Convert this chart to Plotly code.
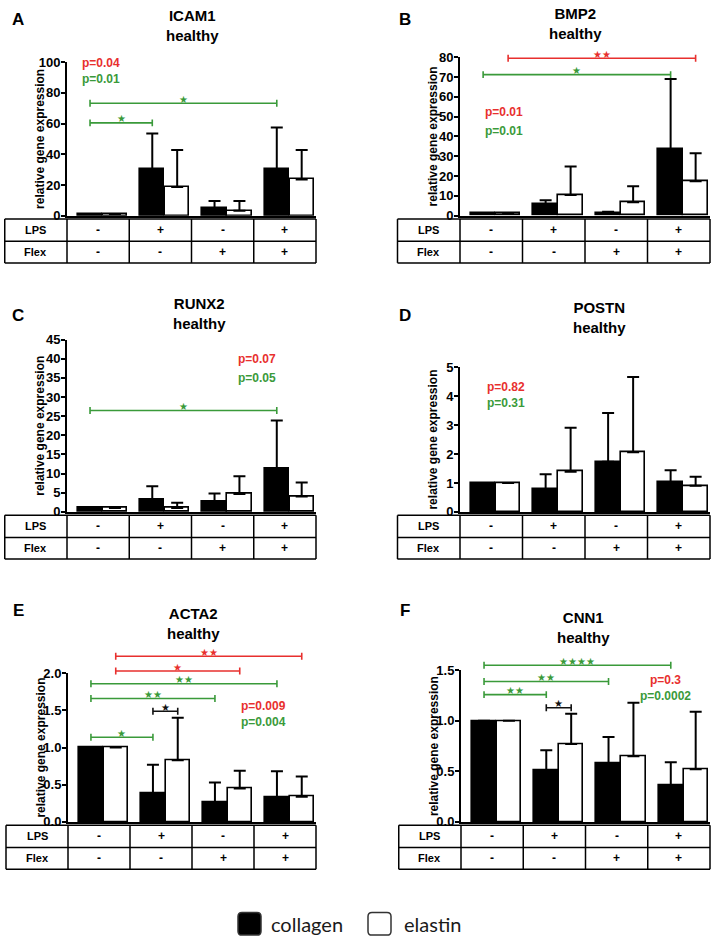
import plotly.graph_objects as go

# ---------------- data ----------------
genes = ["ICAM1", "BMP2", "RUNX2", "POSTN", "ACTA2", "CNN1"]
panel_letters = ["A", "B", "C", "D", "E", "F"]
condition = "healthy"
series_names = ["collagen", "elastin"]
y_title = "relative gene expression"
row_labels = ["LPS", "Flex"]
lps_signs = ["-", "+", "-", "+"]
flex_signs = ["-", "-", "+", "+"]

collagen_mean = [
    [1.0, 30.0, 5.0, 30.0],
    [1.0, 5.8, 1.2, 33.4],
    [1.0, 3.3, 2.6, 11.3],
    [1.0, 0.79, 1.73, 1.02],
    [1.0, 0.38, 0.26, 0.33],
    [1.0, 0.51, 0.58, 0.36],
]
collagen_err = [
    [None, 23.5, 4.6, 27.4],
    [None, 2.0, 0.8, 35.6],
    [None, 3.4, 2.2, 12.6],
    [None, 0.51, 1.69, 0.42],
    [None, 0.39, 0.27, 0.35],
    [None, 0.20, 0.26, 0.23],
]
elastin_mean = [
    [1.0, 18.6, 3.2, 23.6],
    [1.0, 10.4, 6.8, 17.4],
    [1.0, 1.0, 4.7, 4.0],
    [1.0, 1.39, 2.06, 0.90],
    [1.0, 0.83, 0.45, 0.34],
    [1.0, 0.77, 0.65, 0.52],
]
elastin_err = [
    [None, 24.2, 6.4, 19.2],
    [None, 14.4, 8.1, 14.1],
    [None, 1.4, 4.6, 3.7],
    [None, 1.52, 2.60, 0.31],
    [None, 0.57, 0.24, 0.27],
    [None, 0.30, 0.53, 0.57],
]
p_elastin = ["p=0.04", "p=0.01", "p=0.07", "p=0.82", "p=0.009", "p=0.3"]
p_collagen = ["p=0.01", "p=0.01", "p=0.05", "p=0.31", "p=0.004", "p=0.0002"]

# significance comparisons: (series_a, group_a, series_b, group_b, number of stars)
comparisons = [
    [(0, 0, 0, 1, 1), (0, 0, 0, 3, 1)],
    [(1, 0, 1, 3, 2), (0, 0, 0, 3, 1)],
    [(0, 0, 0, 3, 1)],
    [],
    [(1, 0, 1, 3, 2), (1, 0, 1, 2, 1), (0, 0, 0, 3, 2),
     (0, 0, 0, 2, 2), (0, 1, 1, 1, 1), (0, 0, 0, 1, 1)],
    [(0, 0, 0, 3, 4), (0, 0, 0, 2, 2), (0, 0, 0, 1, 2), (0, 1, 1, 1, 1)],
]

# axis scales
y_max = [100, 80, 45, 5, 2.0, 1.5]
y_step = [20, 10, 5, 1, 0.5, 0.5]
y_fmt = ["d", "d", "d", "d", ".1f", ".1f"]

# ---------------- layout / positions (pixels) ----------------
W, H = 714, 948
axis_x_px = [(67, 316), (460, 710), (67, 316), (460, 710), (68, 316), (461, 710)]
axis_y_px = [(56, 212), (51, 212), (338, 513), (366, 513), (677, 828), (674, 828)]
title_px = [(192, 23), (575, 20.5), (199, 316), (599, 319.5), (194, 630.5), (583, 635)]
letter_px = [(18, 15), (405, 15), (18, 315), (405, 315), (18, 615), (405, 615)]
bracket_levels = [
    [60.4, 73.2],
    [79.5, 71.2],
    [26.5],
    [],
    [2.23, 2.03, 1.86, 1.66, 1.49, 1.14],
    [1.55, 1.39, 1.26, 1.13],
]
# p-text anchor: (x data, y data red, y data green)
p_pos = [(-0.02, 96.8, 88.9), (0.14, 51.7, 42.2), (2.48, 39.6, 34.7),
         (0.17, 4.22, 3.73), (2.58, 1.52, 1.32), (2.72, 1.38, 1.23)]
XR = [-0.57, 3.43]
OFFS = [-0.2, 0.2]
BAR_W = 0.39

RED = "#e8302e"
GREEN = "#3a9a3a"
BLACK = "#111111"
series_fill = ["black", "white"]
series_sig_color = [GREEN, RED]
FONT = "Arial, 'Liberation Sans', sans-serif"
STAR = "\u2605"


def PX(px):
    return px / W


def PY(py):
    return 1 - py / H


def dx2px(i, xv):
    a0, a1 = axis_x_px[i]
    return a0 + (xv - XR[0]) / (XR[1] - XR[0]) * (a1 - a0)


def dy2px(i, yv):
    top, bot = axis_y_px[i]
    return bot - yv / y_max[i] * (bot - top)


fig = go.Figure()
layout = {}
shapes = []
annotations = []

for i, gene in enumerate(genes):
    n = "" if i == 0 else str(i + 1)
    xa, ya = "x" + n, "y" + n
    a0, a1 = axis_x_px[i]
    top, bot = axis_y_px[i]
    layout["xaxis" + n] = dict(domain=[PX(a0), PX(a1)], range=XR, anchor=ya,
                               showline=True, linecolor="black", linewidth=2,
                               showticklabels=False, ticks="", showgrid=False,
                               zeroline=False, fixedrange=True)
    layout["yaxis" + n] = dict(domain=[PY(bot), PY(top)], range=[0, y_max[i]], anchor=xa,
                               tick0=0, dtick=y_step[i], tickformat=y_fmt[i],
                               showline=True, linecolor="black", linewidth=2,
                               ticks="outside", ticklen=4, tickwidth=1.5, tickcolor="black",
                               ticklabelstandoff=-2,
                               tickfont=dict(family=FONT, size=13, color="black", weight="bold"),
                               showgrid=False, zeroline=False, fixedrange=True)

    means = [collagen_mean[i], elastin_mean[i]]
    errs = [collagen_err[i], elastin_err[i]]
    for s in range(2):
        fig.add_trace(go.Bar(
            x=[g + OFFS[s] for g in range(4)], y=means[s], width=BAR_W,
            name=series_names[s], xaxis=xa, yaxis=ya, showlegend=False,
            marker=dict(color=series_fill[s], line=dict(color="black", width=1.6)),
            error_y=dict(type="data", symmetric=False, array=errs[s],
                         arrayminus=[0] * 4, color="black", thickness=2, width=6),
        ))

    # title and letter
    tx, ty = title_px[i]
    annotations.append(dict(x=PX(tx), y=PY(ty), xref="paper", yref="paper", yshift=4,
                            text=f"<b>{gene}</b><br><b>{condition}</b>", showarrow=False,
                            xanchor="center", yanchor="middle",
                            font=dict(family=FONT, size=15, color="black")))
    lx, ly = letter_px[i]
    annotations.append(dict(x=PX(lx), y=PY(ly), xref="paper", yref="paper", yshift=2,
                            text=f"<b>{panel_letters[i]}</b>", showarrow=False,
                            xanchor="center", yanchor="middle",
                            font=dict(family=FONT, size=17, color="black")))
    # y-axis title
    annotations.append(dict(x=PX(a0 - 27), y=PY((top + bot) / 2), xref="paper", yref="paper",
                            text=f"<b>{y_title}</b>", showarrow=False, textangle=-90,
                            xanchor="center", yanchor="middle",
                            font=dict(family=FONT, size=12, color="black")))

    # p values
    pxv, pyr, pyg = p_pos[i]
    yr_px, yg_px = dy2px(i, pyr), dy2px(i, pyg)
    if yg_px - yr_px < 17:
        annotations.append(dict(
            x=PX(dx2px(i, pxv)), y=PY((yr_px + yg_px) / 2), xref="paper", yref="paper",
            yshift=2,
            text=(f"<b><span style='color:{RED}'>{p_elastin[i]}</span></b><br>"
                  f"<b><span style='color:{GREEN}'>{p_collagen[i]}</span></b>"),
            showarrow=False, xanchor="center", yanchor="middle",
            font=dict(family=FONT, size=12, color=RED)))
    else:
        for txt, yp, col in ((p_elastin[i], yr_px, RED), (p_collagen[i], yg_px, GREEN)):
            annotations.append(dict(x=PX(dx2px(i, pxv)), y=PY(yp), xref="paper", yref="paper",
                                    yshift=1, text=f"<b>{txt}</b>", showarrow=False,
                                    xanchor="center", yanchor="middle",
                                    font=dict(family=FONT, size=12, color=col)))

    # significance brackets
    for (sa, ga, sb, gb, nstars), lev in zip(comparisons[i], bracket_levels[i]):
        col = series_sig_color[sa] if sa == sb else BLACK
        x1 = dx2px(i, ga + OFFS[sa])
        x2 = dx2px(i, gb + OFFS[sb])
        yp = dy2px(i, lev)
        c = 3.5
        path = (f"M {PX(x1)} {PY(yp - c)} L {PX(x1)} {PY(yp + c)} "
                f"M {PX(x1)} {PY(yp)} L {PX(x2)} {PY(yp)} "
                f"M {PX(x2)} {PY(yp - c)} L {PX(x2)} {PY(yp + c)}")
        shapes.append(dict(type="path", path=path, xref="paper", yref="paper",
                           line=dict(color=col, width=1.6)))
        annotations.append(dict(x=PX((x1 + x2) / 2), y=PY(yp), xref="paper", yref="paper",
                                text=STAR * nstars, showarrow=False, xanchor="center",
                                yanchor="middle", yshift=4,
                                font=dict(family="DejaVu Sans", size=10, color=col)))

    # condition table under the axis
    unit = (a1 - a0) / (XR[1] - XR[0])
    t_left = a0 - unit
    rows_y = [bot + 3.5, bot + 26, bot + 48]
    for ry in rows_y:
        shapes.append(dict(type="line", xref="paper", yref="paper",
                           x0=PX(t_left), x1=PX(a1), y0=PY(ry), y1=PY(ry),
                           line=dict(color="black", width=1.5)))
    col_edges = [t_left] + [a0 + k * unit for k in range(5)]
    for cx in col_edges:
        shapes.append(dict(type="line", xref="paper", yref="paper",
                           x0=PX(cx), x1=PX(cx), y0=PY(rows_y[0]), y1=PY(rows_y[2]),
                           line=dict(color="black", width=1.5)))
    for r, (label, signs) in enumerate(zip(row_labels, [lps_signs, flex_signs])):
        cy = (rows_y[r] + rows_y[r + 1]) / 2
        annotations.append(dict(x=PX(t_left + unit / 2), y=PY(cy), xref="paper", yref="paper",
                                text=f"<b>{label}</b>", showarrow=False, xanchor="center",
                                yanchor="middle", font=dict(family=FONT, size=11, color="black")))
        for g, sgn in enumerate(signs):
            annotations.append(dict(x=PX(a0 + (g + 0.5) * unit), y=PY(cy), xref="paper",
                                    yref="paper", text=f"<b>{sgn}</b>", showarrow=False,
                                    xanchor="center", yanchor="middle",
                                    font=dict(family=FONT, size=12, color="black")))

# ---------------- legend (drawn) ----------------
legend_px = [(238, 920, 269), (368, 920, 402)]
sq = 23
r = 4
for s, (lx0, ly0, tx) in enumerate(legend_px):
    x0, x1, y0, y1 = lx0, lx0 + sq, ly0, ly0 + sq
    path = (f"M {PX(x0 + r)} {PY(y0)} L {PX(x1 - r)} {PY(y0)} Q {PX(x1)} {PY(y0)} {PX(x1)} {PY(y0 + r)} "
            f"L {PX(x1)} {PY(y1 - r)} Q {PX(x1)} {PY(y1)} {PX(x1 - r)} {PY(y1)} "
            f"L {PX(x0 + r)} {PY(y1)} Q {PX(x0)} {PY(y1)} {PX(x0)} {PY(y1 - r)} "
            f"L {PX(x0)} {PY(y0 + r)} Q {PX(x0)} {PY(y0)} {PX(x0 + r)} {PY(y0)} Z")
    shapes.append(dict(type="path", path=path, xref="paper", yref="paper",
                       fillcolor=series_fill[s], line=dict(color="#333333", width=1.5)))
    annotations.append(dict(x=PX(tx), y=PY(ly0 + sq / 2), xref="paper", yref="paper",
                            text=series_names[s], showarrow=False, xanchor="left",
                            yanchor="middle", font=dict(family="Lato, sans-serif", size=20,
                                                        color="#1a1a1a")))

fig.update_layout(
    width=W, height=H, autosize=False,
    margin=dict(l=0, r=0, t=0, b=0),
    paper_bgcolor="white", plot_bgcolor="white",
    barmode="overlay", bargap=0,
    shapes=shapes, annotations=annotations,
    font=dict(family=FONT, color="black"),
    **layout,
)

fig.write_html("out.html", config={"displayModeBar": False},
               post_script="document.body.style.margin='0px';")
